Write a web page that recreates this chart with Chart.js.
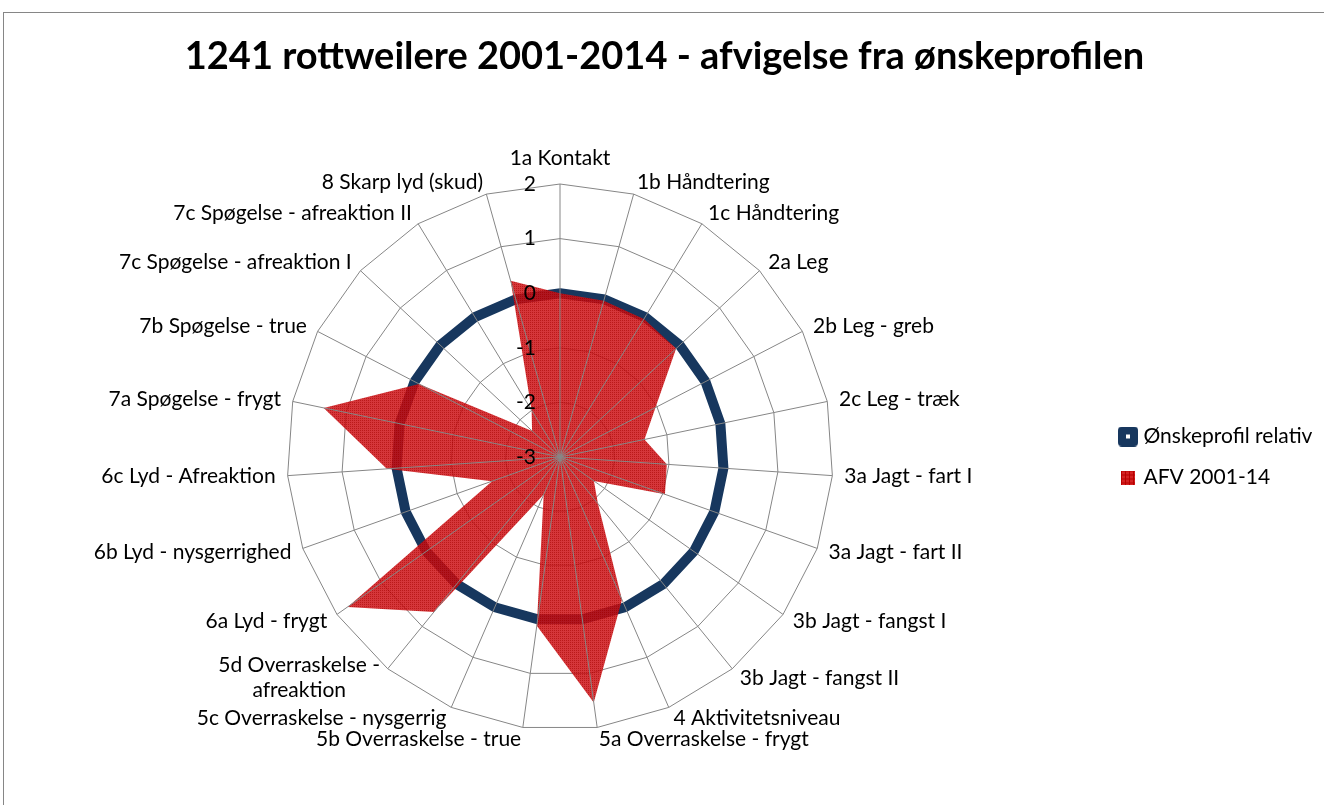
<!DOCTYPE html>
<html>
<head>
<meta charset="utf-8">
<title>1241 rottweilere 2001-2014</title>
<script src="https://cdn.jsdelivr.net/npm/chart.js@4.4.1/dist/chart.umd.min.js"></script>
<style>
  html, body { margin: 0; padding: 0; background: #fff; }
  #wrap { position: relative; width: 1324px; height: 805px; overflow: hidden; }
  #frame { position: absolute; left: 3px; top: 12px; width: 1400px; height: 900px;
           border: 1px solid #868686; pointer-events: none; }
  canvas { display: block; }
</style>
</head>
<body>
<div id="wrap">
  <canvas id="radar" width="1324" height="805"></canvas>
  <div id="frame"></div>
</div>
<script>
// ---- data ----
const categories = [
    "1a Kontakt", "1b Håndtering", "1c Håndtering", "2a Leg", "2b Leg - greb",
    "2c Leg - træk", "3a Jagt - fart I", "3a Jagt - fart II", "3b Jagt - fangst I",
    "3b Jagt - fangst II", "4 Aktivitetsniveau", "5a Overraskelse - frygt",
    "5b Overraskelse - true", "5c Overraskelse - nysgerrig",
    ["5d Overraskelse -", "afreaktion"], "6a Lyd - frygt", "6b Lyd - nysgerrighed",
    "6c Lyd - Afreaktion", "7a Spøgelse - frygt", "7b Spøgelse - true",
    "7c Spøgelse - afreaktion I", "7c Spøgelse - afreaktion II", "8 Skarp lyd (skud)"
];

const onskeprofil = [0, 0, 0, 0, 0, 0, 0, 0, 0, 0, 0, 0, 0, 0, 0, 0, 0, 0, 0, 0, 0, 0, 0];

const afv2001 = [0.0, -0.03, -0.04, -0.09, -1.03, -1.42, -1.04, -0.96, -2.24, -1.9, -0.15, 1.54,
                 0.12, -2.25, 0.66, 1.76, -1.68, 0.18, 1.42, -0.09, -2.3, -2.0, 0.35];

const axisMin = -3;
const axisMax = 2;
const axisStep = 1;

const NAVY = "#17375e";
const GRID = "#868686";
const FONT = "Lato";

// ---- fill pattern + legend markers ----
function makeRedPattern(ctx) {
    const c = document.createElement("canvas");
    c.width = 2; c.height = 2;
    const g = c.getContext("2d");
    g.fillStyle = "rgba(205,15,20,0.84)";
    g.fillRect(0, 0, 2, 2);
    g.clearRect(0, 0, 1, 1);
    g.fillStyle = "rgba(180,0,0,0.9)";
    g.fillRect(0, 0, 1, 1);
    return ctx.createPattern(c, "repeat");
}

function makeNavyMarker() {
    const c = document.createElement("canvas");
    c.width = 20; c.height = 20;
    const g = c.getContext("2d");
    g.fillStyle = NAVY;
    g.beginPath();
    g.roundRect(0, 0, 20, 20, 4);
    g.fill();
    g.fillStyle = "#fff";
    g.fillRect(8, 8, 4, 4);
    return c;
}

function makeRedMarker() {
    const c = document.createElement("canvas");
    c.width = 14; c.height = 14;
    const g = c.getContext("2d");
    g.fillStyle = "#d42222";
    g.fillRect(0, 0, 14, 14);
    g.fillStyle = "#b80000";
    for (let k = 0; k < 14; k += 4) {
        g.fillRect(k, 0, 1, 14);
        g.fillRect(0, k, 14, 1);
    }
    return c;
}

// spokes, tick values and category labels drawn on top of the area, like Excel
const radarOverlay = {
    id: "radarOverlay",
    afterDatasetsDraw(chart) {
        const s = chart.scales.r;
        const ctx = chart.ctx;
        const n = categories.length;
        ctx.save();

        ctx.strokeStyle = GRID;
        ctx.lineWidth = 1;
        for (let i = 0; i < n; i++) {
            const p = s.getPointPositionForValue(i, s.max);
            ctx.beginPath();
            ctx.moveTo(s.xCenter, s.yCenter);
            ctx.lineTo(p.x, p.y);
            ctx.stroke();
        }

        ctx.fillStyle = "#000";
        ctx.font = "21px " + FONT;
        ctx.textAlign = "right";
        ctx.textBaseline = "middle";
        s.ticks.forEach(t => {
            const d = s.getDistanceFromCenterForValue(t.value);
            ctx.fillText(t.label, s.xCenter - 24, s.yCenter - d);
        });

        ctx.font = "21px " + FONT;
        for (let i = 0; i < n; i++) {
            const p = s.getPointPosition(i, s.drawingArea + 12);
            const deg = Math.round(s.getIndexAngle(i) * 180 / Math.PI * 100) / 100;
            const lines = Array.isArray(categories[i]) ? categories[i] : [categories[i]];
            const lh = 25;
            const w = Math.max(...lines.map(l => ctx.measureText(l).width));
            let left;
            if (deg === 0 || deg === 180) left = p.x - w / 2;
            else if (deg < 180) left = p.x;
            else left = p.x - w;
            let midY = p.y;
            if (deg === 0) midY = p.y - 14;
            const top = midY - (lines.length - 1) * lh / 2;
            ctx.textAlign = "center";
            lines.forEach((l, k) => {
                ctx.fillText(l, left + w / 2, top + k * lh);
            });
        }
        ctx.restore();
    }
};

const canvas = document.getElementById("radar");
const ctx = canvas.getContext("2d");

new Chart(ctx, {
    type: "radar",
    data: {
        labels: categories,
        datasets: [{
            label: "Ønskeprofil relativ",
            data: onskeprofil,
            borderColor: NAVY,
            backgroundColor: NAVY,
            borderWidth: 10,
            fill: false,
            pointRadius: 0,
            pointHoverRadius: 0,
            pointStyle: makeNavyMarker(),
            order: 1
        }, {
            label: "AFV 2001-14",
            data: afv2001,
            borderWidth: 0,
            borderColor: "rgba(0,0,0,0)",
            backgroundColor: makeRedPattern(ctx),
            fill: "start",
            pointRadius: 0,
            pointHoverRadius: 0,
            pointStyle: makeRedMarker(),
            order: 0
        }]
    },
    options: {
        responsive: false,
        animation: false,
        events: [],
        layout: {
            padding: { left: 17, right: 12, top: 0, bottom: 75 }
        },
        scales: {
            r: {
                min: axisMin,
                max: axisMax,
                ticks: { display: false, stepSize: axisStep },
                pointLabels: { display: false },
                angleLines: { display: false },
                grid: { color: GRID, lineWidth: 1, circular: false }
            }
        },
        plugins: {
            title: {
                display: true,
                text: "1241 rottweilere 2001-2014 - afvigelse fra ønskeprofilen",
                color: "#000",
                font: { family: FONT, size: 38, weight: "bold", lineHeight: 1.2 },
                padding: { top: 34.2, bottom: 104.2 }
            },
            legend: {
                position: "right",
                align: "center",
                fullSize: false,
                maxWidth: 209,
                labels: {
                    usePointStyle: true,
                    pointStyleWidth: 10,
                    color: "#000",
                    padding: 20,
                    font: { family: FONT, size: 21 },
                    sort: (a, b) => a.datasetIndex - b.datasetIndex
                }
            },
            tooltip: { enabled: false }
        }
    },
    plugins: [radarOverlay]
});
</script>
</body>
</html>
